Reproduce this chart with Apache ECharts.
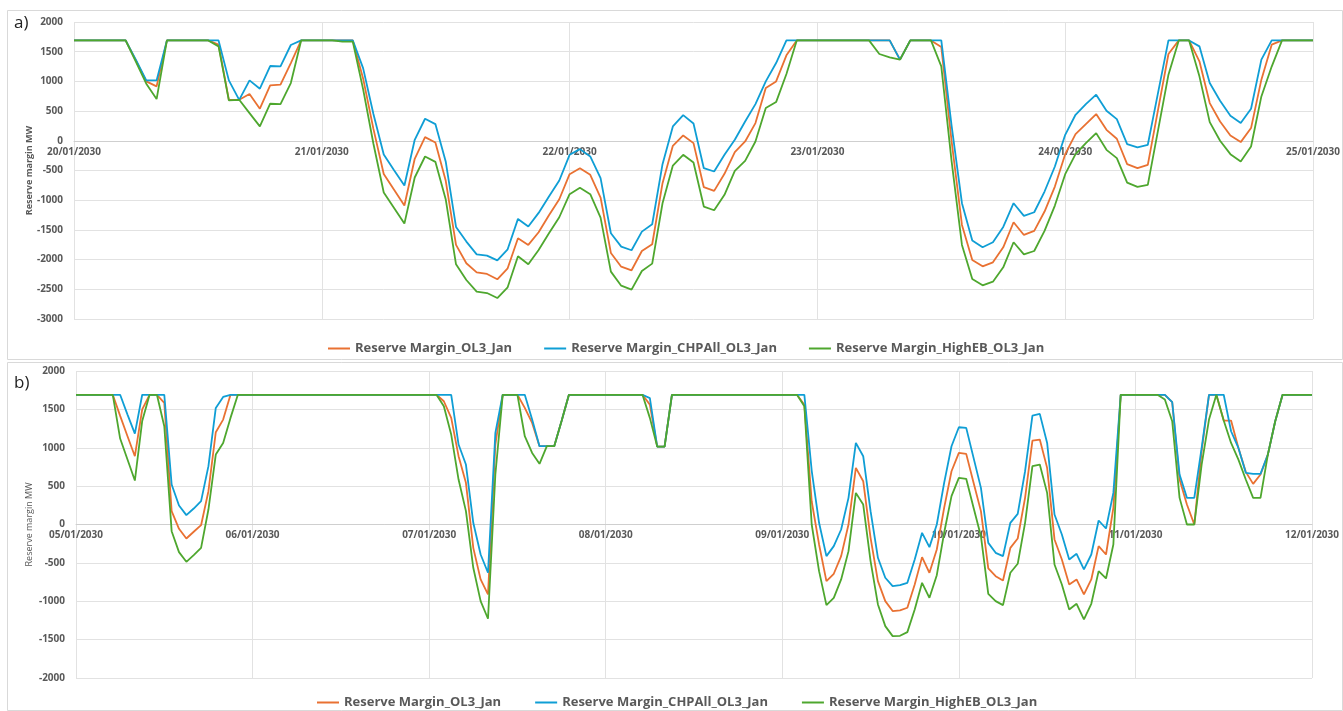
<!DOCTYPE html>
<html>
<head>
<meta charset="utf-8">
<title>Reserve margin</title>
<script src="https://cdn.jsdelivr.net/npm/echarts@6/dist/echarts.min.js"></script>
<style>
  html, body { margin: 0; padding: 0; background: #fff; }
  #chart { width: 1343px; height: 711px; }
</style>
</head>
<body>
<div id="chart"></div>
<script>
// 日期（每天 24 个小时点，最后一天只取 00:00）
const daysA = ['20/01/2030', '21/01/2030', '22/01/2030', '23/01/2030', '24/01/2030', '25/01/2030']
const daysB = ['05/01/2030', '06/01/2030', '07/01/2030', '08/01/2030', '09/01/2030', '10/01/2030', '11/01/2030', '12/01/2030']

const seriesNames = ['Reserve Margin_OL3_Jan', 'Reserve Margin_CHPAll_OL3_Jan', 'Reserve Margin_HighEB_OL3_Jan']
const seriesColors = ['#E97132', '#0F9ED5', '#4EA72E']

// 图 a) 20/01 - 25/01
const ol3A = [
  1690, 1690, 1690, 1690, 1690, 1690, 1350, 1000, 916, 1690, 1690, 1690, 1690, 1690, 1620, 690, 690, 787, 540, 933, 944, 1309, 1690, 1690,
  1690, 1690, 1690, 1690, 1050, 200, -560, -826, -1090, -303, 62, -28, -669, -1753, -2062, -2214, -2242, -2332, -2147, -1641, -1753, -1540, -1253, -984,
  -562, -461, -573, -955, -1888, -2119, -2180, -1855, -1742, -714, -84, 90, -39, -781, -843, -556, -191, -11, 298, 888, 1000, 1439, 1690, 1690,
  1690, 1690, 1690, 1690, 1690, 1690, 1690, 1690, 1366, 1690, 1690, 1690, 1579, -11, -1416, -2006, -2113, -2046, -1793, -1371, -1585, -1517, -1191, -770,
  -225, 112, 281, 450, 185, 34, -393, -461, -405, 528, 1461, 1690, 1690, 1338, 635, 326, 90, -22, 214, 1029, 1618, 1690, 1690, 1690,
  1690
]
const chpAllA = [
  1690, 1690, 1690, 1690, 1690, 1690, 1360, 1017, 1017, 1690, 1690, 1690, 1690, 1690, 1690, 1017, 690, 1017, 877, 1259, 1253, 1613, 1690, 1690,
  1690, 1690, 1690, 1690, 1224, 450, -230, -495, -753, 17, 371, 281, -348, -1450, -1697, -1911, -1933, -2012, -1827, -1315, -1444, -1214, -939, -669,
  -236, -140, -264, -629, -1557, -1781, -1843, -1529, -1405, -393, 242, 433, 292, -461, -517, -236, 17, 326, 618, 1000, 1309, 1690, 1690, 1690,
  1690, 1690, 1690, 1690, 1690, 1690, 1690, 1690, 1366, 1690, 1690, 1690, 1690, 250, -1051, -1680, -1793, -1708, -1450, -1051, -1265, -1203, -854, -433,
  101, 438, 618, 776, 506, 365, -56, -112, -67, 815, 1690, 1690, 1690, 1590, 972, 674, 421, 298, 540, 1366, 1690, 1690, 1690, 1690,
  1690
]
const highEbA = [
  1690, 1690, 1690, 1690, 1690, 1690, 1330, 961, 702, 1690, 1690, 1690, 1690, 1690, 1590, 680, 690, 466, 242, 624, 618, 972, 1690, 1690,
  1690, 1690, 1670, 1670, 870, -50, -870, -1130, -1394, -618, -264, -354, -983, -2079, -2343, -2540, -2563, -2647, -2467, -1945, -2079, -1838, -1557, -1287,
  -899, -792, -899, -1292, -2203, -2439, -2506, -2192, -2068, -1051, -416, -236, -365, -1107, -1169, -910, -506, -337, -11, 551, 652, 1124, 1690, 1690,
  1690, 1690, 1690, 1690, 1690, 1690, 1461, 1405, 1366, 1690, 1690, 1690, 1253, -348, -1753, -2327, -2433, -2372, -2130, -1708, -1911, -1855, -1517, -1090,
  -562, -225, -39, 129, -152, -292, -703, -776, -742, 185, 1113, 1690, 1690, 1085, 315, 0, -225, -348, -96, 747, 1250, 1690, 1690, 1690,
  1690
]

// 图 b) 05/01 - 12/01
const ol3B = [
  1690, 1690, 1690, 1690, 1690, 1690, 1415, 1150, 890, 1500, 1690, 1690, 1584, 174, -56, -182, -95, -9, 434, 1202, 1367, 1690, 1690, 1690,
  1690, 1690, 1690, 1690, 1690, 1690, 1690, 1690, 1690, 1690, 1690, 1690, 1690, 1690, 1690, 1690, 1690, 1690, 1690, 1690, 1690, 1690, 1690, 1690,
  1690, 1690, 1606, 1389, 890, 543, -304, -716, -911, 1042, 1690, 1690, 1690, 1519, 1324, 1020, 1020, 1020, 1350, 1690, 1690, 1690, 1690, 1690,
  1690, 1690, 1690, 1690, 1690, 1690, 1562, 1015, 1015, 1690, 1690, 1690, 1690, 1690, 1690, 1690, 1690, 1690, 1690, 1690, 1690, 1690, 1690, 1690,
  1690, 1690, 1690, 1560, 300, -260, -738, -642, -412, 0, 738, 564, -174, -738, -998, -1128, -1120, -1085, -781, -425, -629, -326, 217, 694,
  933, 920, 543, 174, -573, -673, -729, -304, -182, 347, 1094, 1107, 738, -195, -456, -781, -716, -911, -716, -282, -391, 217, 1690, 1690,
  1690, 1690, 1690, 1690, 1690, 1593, 586, 260, 0, 955, 1690, 1690, 1354, 1354, 998, 686, 529, 651, 911, 1345, 1690, 1690, 1690, 1690,
  1690
]
const chpAllB = [
  1690, 1690, 1690, 1690, 1690, 1690, 1690, 1432, 1185, 1690, 1690, 1690, 1690, 521, 247, 122, 208, 304, 760, 1519, 1662, 1690, 1690, 1690,
  1690, 1690, 1690, 1690, 1690, 1690, 1690, 1690, 1690, 1690, 1690, 1690, 1690, 1690, 1690, 1690, 1690, 1690, 1690, 1690, 1690, 1690, 1690, 1690,
  1690, 1690, 1690, 1690, 1042, 781, 22, -391, -629, 1193, 1690, 1690, 1690, 1690, 1367, 1020, 1020, 1020, 1350, 1690, 1690, 1690, 1690, 1690,
  1690, 1690, 1690, 1690, 1690, 1690, 1646, 1015, 1015, 1690, 1690, 1690, 1690, 1690, 1690, 1690, 1690, 1690, 1690, 1690, 1690, 1690, 1690, 1690,
  1690, 1690, 1690, 1690, 700, 22, -412, -282, -65, 347, 1063, 890, 174, -434, -694, -803, -790, -760, -456, -108, -295, 0, 543, 1020,
  1267, 1259, 868, 477, -239, -369, -412, 22, 139, 694, 1419, 1441, 1063, 130, -130, -456, -382, -586, -391, 52, -52, 412, 1690, 1690,
  1690, 1690, 1690, 1690, 1690, 1593, 651, 347, 347, 998, 1690, 1690, 1690, 1215, 998, 673, 660, 660, 911, 1345, 1690, 1690, 1690, 1690,
  1690
]
const highEbB = [
  1690, 1690, 1690, 1690, 1690, 1690, 1120, 846, 573, 1350, 1690, 1690, 1280, -87, -360, -486, -399, -304, 195, 911, 1063, 1389, 1690, 1690,
  1690, 1690, 1690, 1690, 1690, 1690, 1690, 1690, 1690, 1690, 1690, 1690, 1690, 1690, 1690, 1690, 1690, 1690, 1690, 1690, 1690, 1690, 1690, 1690,
  1690, 1690, 1541, 1172, 586, 174, -564, -998, -1228, 651, 1690, 1690, 1690, 1150, 933, 790, 1020, 1020, 1350, 1690, 1690, 1690, 1690, 1690,
  1690, 1690, 1690, 1690, 1690, 1690, 1389, 1015, 1015, 1690, 1690, 1690, 1690, 1690, 1690, 1690, 1690, 1690, 1690, 1690, 1690, 1690, 1690, 1690,
  1690, 1690, 1690, 1540, 0, -608, -1050, -955, -716, -347, 412, 260, -477, -1042, -1324, -1454, -1450, -1402, -1107, -760, -955, -660, -108, 369,
  608, 595, 217, -152, -903, -998, -1050, -629, -512, 22, 760, 781, 412, -521, -781, -1107, -1033, -1237, -1033, -608, -703, -260, 1690, 1690,
  1690, 1690, 1690, 1690, 1628, 1345, 347, 0, 0, 781, 1367, 1690, 1354, 1063, 846, 586, 347, 347, 911, 1345, 1690, 1690, 1690, 1690,
  1690
]

// 小时类目：每天 00:00 - 23:00，最后一天只保留 00:00
const hourCategories = (days) => {
  const out = []
  days.forEach((d, k) => {
    const n = k === days.length - 1 ? 1 : 24
    for (let h = 0; h < n; h++) out.push(d + ' ' + String(h).padStart(2, '0') + ':00')
  })
  return out
}

const catsA = hourCategories(daysA)
const catsB = hourCategories(daysB)

const labelColor = '#595959'
const gridColor = '#e2e2e2'

// 网格尺寸
const gridA = { left: 74, top: 22, width: 1239, height: 297 }
const gridB = { left: 76, top: 371, width: 1236, height: 307 }
const rangeA = [-3000, 2000]
const rangeB = [-2000, 2000]

// 横轴放在 0 线上：用负 offset 把整条轴（含标签）从底部移到 0 位置
const zeroOffset = (grid, range) => -grid.height * (0 - range[0]) / (range[1] - range[0])

const makeX = (gridIndex, cats, offset) => ({
  type: 'category',
  gridIndex,
  data: cats,
  boundaryGap: false,
  position: 'bottom',
  offset,
  axisLine: { onZero: false, lineStyle: { color: '#cfcfcf', width: 1 } },
  axisTick: { show: false },
  axisLabel: {
    interval: 23,
    margin: 6,
    color: labelColor,
    fontSize: 10,
    fontWeight: 'bold',
    fontFamily: 'Open Sans',
    formatter: (v) => v.slice(0, 10)
  },
  splitLine: { show: true, interval: 23, lineStyle: { color: gridColor } }
})

const makeY = (gridIndex, range, nameWeight, nameGap) => ({
  type: 'value',
  gridIndex,
  min: range[0],
  max: range[1],
  interval: 500,
  name: 'Reserve margin MW',
  nameLocation: 'middle',
  nameGap,
  nameMoveOverlap: false,
  nameTextStyle: { color: labelColor, fontSize: 9, fontWeight: nameWeight, fontFamily: 'Open Sans' },
  axisLine: { show: false },
  axisTick: { show: false },
  axisLabel: {
    margin: 11,
    color: labelColor,
    fontSize: 10,
    fontWeight: 'bold',
    fontFamily: 'Open Sans',
    formatter: (v) => String(v)
  },
  splitLine: { lineStyle: { color: gridColor } }
})

const makeLine = (name, color, idx, data) => ({
  name,
  type: 'line',
  xAxisIndex: idx,
  yAxisIndex: idx,
  data,
  symbol: 'none',
  lineStyle: { color, width: 1.8 },
  itemStyle: { color },
  animation: false
})

const legendBase = {
  data: seriesNames,
  itemWidth: 22,
  itemHeight: 10,
  icon: 'path://M0,4 L22,4 L22,6 L0,6 Z',
  textStyle: { color: labelColor, fontSize: 13, fontWeight: 'bold', fontFamily: 'Open Sans' }
}

const chart = echarts.init(document.getElementById('chart'))
chart.setOption({
  backgroundColor: '#fff',
  animation: false,
  graphic: [
    { type: 'rect', shape: { x: 7.5, y: 10.5, width: 1335, height: 349 }, style: { fill: 'none', stroke: '#d9d9d9', lineWidth: 1 } },
    { type: 'rect', shape: { x: 7.5, y: 362.5, width: 1335, height: 348 }, style: { fill: 'none', stroke: '#d9d9d9', lineWidth: 1 } },
    { type: 'text', left: 14, top: 15, style: { text: 'a)', fontSize: 17, fill: '#222', fontFamily: 'Open Sans' } },
    { type: 'text', left: 14, top: 375, style: { text: 'b)', fontSize: 17, fill: '#222', fontFamily: 'Open Sans' } }
  ],
  legend: [
    Object.assign({ left: 323, top: 337, itemGap: 32 }, legendBase),
    Object.assign({ left: 312, top: 691, itemGap: 34 }, legendBase)
  ],
  grid: [gridA, gridB],
  xAxis: [makeX(0, catsA, zeroOffset(gridA, rangeA)), makeX(1, catsB, zeroOffset(gridB, rangeB))],
  yAxis: [makeY(0, rangeA, 'bold', 40), makeY(1, rangeB, 'normal', 42)],
  series: [
    makeLine(seriesNames[0], seriesColors[0], 0, ol3A),
    makeLine(seriesNames[1], seriesColors[1], 0, chpAllA),
    makeLine(seriesNames[2], seriesColors[2], 0, highEbA),
    makeLine(seriesNames[0], seriesColors[0], 1, ol3B),
    makeLine(seriesNames[1], seriesColors[1], 1, chpAllB),
    makeLine(seriesNames[2], seriesColors[2], 1, highEbB)
  ]
})
</script>
</body>
</html>
